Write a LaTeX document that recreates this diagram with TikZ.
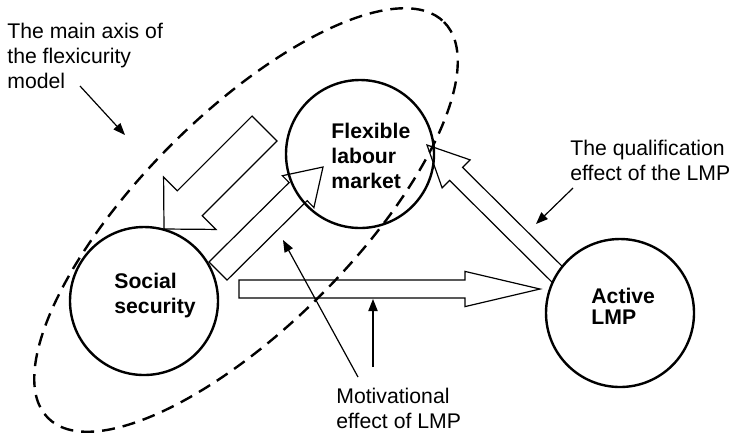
\documentclass[tikz,border=0pt]{standalone}
\usepackage{fontspec}
\setmainfont{Liberation Sans}
\usetikzlibrary{calc,arrows.meta}

\tikzset{
    hub/.style={circle,draw,line width=1.2pt,minimum size=74pt,inner sep=0pt},
    axisline/.style={line width=1.2pt,dash pattern=on 6.5pt off 4pt},
    fatarrow/.style={line width=0.6pt,line join=miter},
    pointer/.style={line width=0.6pt,-{Triangle[length=6pt,width=4.6pt]}},
    note/.style={align=left,inner sep=0pt,anchor=base west,font=\fontsize{10.6}{12.5}\selectfont},
    hubtext/.style={note,font=\fontsize{10.6}{12.5}\selectfont\bfseries}
}

% hollow block arrow: tail, tip, half shaft, head length, half head
\newcommand{\hollowarrow}[5]{%
    \coordinate (hbase) at ($(#2)!#4!(#1)$);
    \draw[fatarrow] ($(#1)!#3!90:(#2)$) -- ($(hbase)!#3!90:(#2)$)
        -- ($(hbase)!#5!90:(#2)$) -- (#2) -- ($(hbase)!#5!-90:(#2)$)
        -- ($(hbase)!#3!-90:(#2)$) -- ($(#1)!#3!-90:(#2)$) -- cycle;
}

\begin{document}
\begin{tikzpicture}[x=0.5pt,y=-0.5pt]
	\useasboundingbox (0,0) rectangle (731,436);
	
	% main axis
	\draw[axisline,rotate around={45:(246,220)}] (246,220) ellipse [x radius=280,y radius=106];
	
	\node[hub] (flex) at (360,154) {};
	
	\path
	(264.5,128.5) coordinate (f2s-tail)
	(164,229) coordinate (f2s-tip)
	(218,271) coordinate (s2f-tail)
	(323,167) coordinate (s2f-tip)
	(239,289) coordinate (s2a-tail)
	(540,289) coordinate (s2a-tip)
	(575,292) coordinate (a2f-tail)
	(427,145) coordinate (a2f-tip);
	
	% block arrows
	\hollowarrow{f2s-tail}{f2s-tip}{8.8pt}{18.2pt}{18.5pt}
	\hollowarrow{s2f-tail}{s2f-tip}{6.4pt}{17.5pt}{11.2pt}
	\hollowarrow{s2a-tail}{s2a-tip}{4.5pt}{37.5pt}{8.8pt}
	\hollowarrow{a2f-tail}{a2f-tip}{4.6pt}{20.5pt}{9.9pt}
	
	\node[hub,fill=white] (social) at (144,301) {};
	\node[hub,fill=white] (active) at (620,313) {};
	
	% circle texts (anchored at the last baseline)
	\node[hubtext] (flex-text) at (331,188) {Flexible\\labour\\market};
	\node[hubtext] (social-text) at (114,313) {Social\\security};
	\node[hubtext,font=\fontsize{10.6}{10.5}\selectfont\bfseries] (active-text) at (591,324) {Active\\LMP};
	
	% notes
	\node[note] (axis-note) at (7,88) {The main axis of\\the flexicurity\\model};
	\node[note] (qual-note) at (570,180) {The qualification\\effect of the LMP};
	\node[note] (motiv-note) at (336,428) {Motivational\\effect of LMP};
	
	\path
	(80,86) coordinate (axis-from)
	(125,135) coordinate (axis-to)
	(573,188) coordinate (qual-from)
	(536,224) coordinate (qual-to)
	(373,367) coordinate (motiv-from1)
	(373,299) coordinate (motiv-to1)
	(358,377) coordinate (motiv-from2)
	(283,240) coordinate (motiv-to2);
	
	\draw[pointer] (axis-from) -- (axis-to);
	\draw[pointer] (qual-from) -- (qual-to);
	\draw[pointer] (motiv-from1) -- (motiv-to1);
	\draw[pointer] (motiv-from2) -- (motiv-to2);
\end{tikzpicture}
\end{document}
